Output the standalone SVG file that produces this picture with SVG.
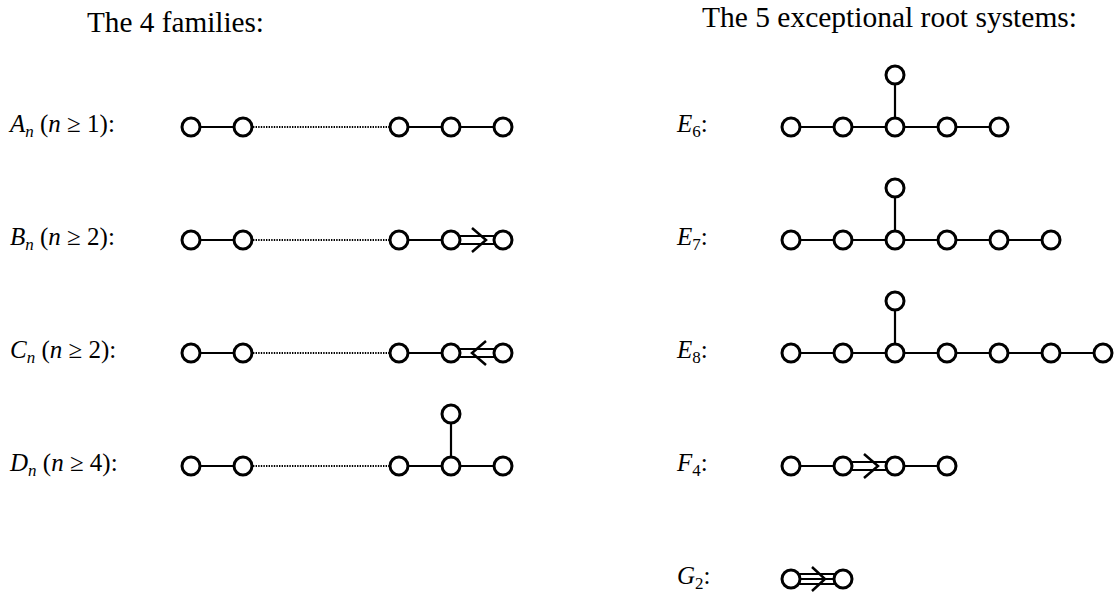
<svg xmlns="http://www.w3.org/2000/svg" width="1119" height="594" viewBox="0 0 1119 594">
<style>
  text { font-family: "Liberation Serif", "Times New Roman", serif; fill: #000; }
  .title { font-size: 30px; }
  .lbl { font-size: 25px; }
  .it { font-style: italic; }
  .sub { font-size: 17px; }
  .node { fill: #fff; stroke: #000; stroke-width: 3; }
  .edge { stroke: #000; stroke-width: 2.2; fill: none; }
  .dots { stroke: #000; stroke-width: 2.2; stroke-dasharray: 1.4 1.2; fill: none; }
  .arrow { stroke: #000; stroke-width: 2.5; fill: none; stroke-linejoin: miter; }
</style>
<rect width="1119" height="594" fill="#fff"/>

<g id="titles">
  <text class="title" x="87" y="32" textLength="177" lengthAdjust="spacingAndGlyphs">The 4 families:</text>
  <text class="title" x="702" y="27" textLength="375" lengthAdjust="spacingAndGlyphs">The 5 exceptional root systems:</text>
</g>

<g id="labels" class="lbl">
  <text class="lbl" x="10" y="132"><tspan class="it">A</tspan><tspan class="it sub" dy="5">n</tspan><tspan dy="-5"> (</tspan><tspan class="it">n</tspan> ≥ 1):</text>
  <text class="lbl" x="10" y="245"><tspan class="it">B</tspan><tspan class="it sub" dy="5">n</tspan><tspan dy="-5"> (</tspan><tspan class="it">n</tspan> ≥ 2):</text>
  <text class="lbl" x="10" y="358"><tspan class="it">C</tspan><tspan class="it sub" dy="5">n</tspan><tspan dy="-5"> (</tspan><tspan class="it">n</tspan> ≥ 2):</text>
  <text class="lbl" x="10" y="471"><tspan class="it">D</tspan><tspan class="it sub" dy="5">n</tspan><tspan dy="-5"> (</tspan><tspan class="it">n</tspan> ≥ 4):</text>
  <text class="lbl" x="677" y="132"><tspan class="it">E</tspan><tspan class="sub" dy="5">6</tspan><tspan dy="-5">:</tspan></text>
  <text class="lbl" x="677" y="245"><tspan class="it">E</tspan><tspan class="sub" dy="5">7</tspan><tspan dy="-5">:</tspan></text>
  <text class="lbl" x="677" y="358"><tspan class="it">E</tspan><tspan class="sub" dy="5">8</tspan><tspan dy="-5">:</tspan></text>
  <text class="lbl" x="677" y="471"><tspan class="it">F</tspan><tspan class="sub" dy="5">4</tspan><tspan dy="-5">:</tspan></text>
  <text class="lbl" x="677" y="584"><tspan class="it">G</tspan><tspan class="sub" dy="5">2</tspan><tspan dy="-5">:</tspan></text>
</g>

<g id="connectors">
  <!-- A_n -->
  <line class="edge" x1="191" y1="127" x2="243" y2="127"/>
  <line class="dots" x1="253" y1="127" x2="389" y2="127"/>
  <line class="edge" x1="399" y1="127" x2="503" y2="127"/>
  <!-- B_n -->
  <line class="edge" x1="191" y1="240" x2="243" y2="240"/>
  <line class="dots" x1="253" y1="240" x2="389" y2="240"/>
  <line class="edge" x1="399" y1="240" x2="451" y2="240"/>
  <line class="edge" x1="451" y1="236" x2="503" y2="236"/>
  <line class="edge" x1="451" y1="244" x2="503" y2="244"/>
  <polyline class="arrow" points="472,228 486,240 472,252"/>
  <!-- C_n -->
  <line class="edge" x1="191" y1="353" x2="243" y2="353"/>
  <line class="dots" x1="253" y1="353" x2="389" y2="353"/>
  <line class="edge" x1="399" y1="353" x2="451" y2="353"/>
  <line class="edge" x1="451" y1="349" x2="503" y2="349"/>
  <line class="edge" x1="451" y1="357" x2="503" y2="357"/>
  <polyline class="arrow" points="486,341 472,353 486,365"/>
  <!-- D_n -->
  <line class="edge" x1="191" y1="466" x2="243" y2="466"/>
  <line class="dots" x1="253" y1="466" x2="389" y2="466"/>
  <line class="edge" x1="399" y1="466" x2="503" y2="466"/>
  <line class="edge" x1="451" y1="414" x2="451" y2="466"/>
  <!-- E6 -->
  <line class="edge" x1="791" y1="127" x2="999" y2="127"/>
  <line class="edge" x1="895" y1="75" x2="895" y2="127"/>
  <!-- E7 -->
  <line class="edge" x1="791" y1="240" x2="1051" y2="240"/>
  <line class="edge" x1="895" y1="188" x2="895" y2="240"/>
  <!-- E8 -->
  <line class="edge" x1="791" y1="353" x2="1103" y2="353"/>
  <line class="edge" x1="895" y1="301" x2="895" y2="353"/>
  <!-- F4 -->
  <line class="edge" x1="791" y1="466" x2="843" y2="466"/>
  <line class="edge" x1="843" y1="462" x2="895" y2="462"/>
  <line class="edge" x1="843" y1="470" x2="895" y2="470"/>
  <polyline class="arrow" points="864,454 878,466 864,478"/>
  <line class="edge" x1="895" y1="466" x2="947" y2="466"/>
  <!-- G2 -->
  <line class="edge" x1="791" y1="574" x2="843" y2="574"/>
  <line class="edge" x1="791" y1="579" x2="843" y2="579"/>
  <line class="edge" x1="791" y1="584" x2="843" y2="584"/>
  <polyline class="arrow" points="812,567 825,579 812,591"/>
</g>

<g id="A_n">
  <circle id="A1" class="node" cx="191" cy="127" r="9"/>
  <circle id="A2" class="node" cx="243" cy="127" r="9"/>
  <circle id="A3" class="node" cx="399" cy="127" r="9"/>
  <circle id="A4" class="node" cx="451" cy="127" r="9"/>
  <circle id="A5" class="node" cx="503" cy="127" r="9"/>
</g>
<g id="B_n">
  <circle id="B1" class="node" cx="191" cy="240" r="9"/>
  <circle id="B2" class="node" cx="243" cy="240" r="9"/>
  <circle id="B3" class="node" cx="399" cy="240" r="9"/>
  <circle id="B4" class="node" cx="451" cy="240" r="9"/>
  <circle id="B5" class="node" cx="503" cy="240" r="9"/>
</g>
<g id="C_n">
  <circle id="C1" class="node" cx="191" cy="353" r="9"/>
  <circle id="C2" class="node" cx="243" cy="353" r="9"/>
  <circle id="C3" class="node" cx="399" cy="353" r="9"/>
  <circle id="C4" class="node" cx="451" cy="353" r="9"/>
  <circle id="C5" class="node" cx="503" cy="353" r="9"/>
</g>
<g id="D_n">
  <circle id="D1" class="node" cx="191" cy="466" r="9"/>
  <circle id="D2" class="node" cx="243" cy="466" r="9"/>
  <circle id="D3" class="node" cx="399" cy="466" r="9"/>
  <circle id="D4" class="node" cx="451" cy="466" r="9"/>
  <circle id="D5" class="node" cx="503" cy="466" r="9"/>
  <circle id="D6" class="node" cx="451" cy="414" r="9"/>
</g>
<g id="E6">
  <circle id="E6-1" class="node" cx="791" cy="127" r="9"/>
  <circle id="E6-2" class="node" cx="843" cy="127" r="9"/>
  <circle id="E6-3" class="node" cx="895" cy="127" r="9"/>
  <circle id="E6-4" class="node" cx="947" cy="127" r="9"/>
  <circle id="E6-5" class="node" cx="999" cy="127" r="9"/>
  <circle id="E6-6" class="node" cx="895" cy="75" r="9"/>
</g>
<g id="E7">
  <circle id="E7-1" class="node" cx="791" cy="240" r="9"/>
  <circle id="E7-2" class="node" cx="843" cy="240" r="9"/>
  <circle id="E7-3" class="node" cx="895" cy="240" r="9"/>
  <circle id="E7-4" class="node" cx="947" cy="240" r="9"/>
  <circle id="E7-5" class="node" cx="999" cy="240" r="9"/>
  <circle id="E7-6" class="node" cx="1051" cy="240" r="9"/>
  <circle id="E7-7" class="node" cx="895" cy="188" r="9"/>
</g>
<g id="E8">
  <circle id="E8-1" class="node" cx="791" cy="353" r="9"/>
  <circle id="E8-2" class="node" cx="843" cy="353" r="9"/>
  <circle id="E8-3" class="node" cx="895" cy="353" r="9"/>
  <circle id="E8-4" class="node" cx="947" cy="353" r="9"/>
  <circle id="E8-5" class="node" cx="999" cy="353" r="9"/>
  <circle id="E8-6" class="node" cx="1051" cy="353" r="9"/>
  <circle id="E8-7" class="node" cx="1103" cy="353" r="9"/>
  <circle id="E8-8" class="node" cx="895" cy="301" r="9"/>
</g>
<g id="F4">
  <circle id="F4-1" class="node" cx="791" cy="466" r="9"/>
  <circle id="F4-2" class="node" cx="843" cy="466" r="9"/>
  <circle id="F4-3" class="node" cx="895" cy="466" r="9"/>
  <circle id="F4-4" class="node" cx="947" cy="466" r="9"/>
</g>
<g id="G2">
  <circle id="G2-1" class="node" cx="791" cy="579" r="9"/>
  <circle id="G2-2" class="node" cx="843" cy="579" r="9"/>
</g>
</svg>
